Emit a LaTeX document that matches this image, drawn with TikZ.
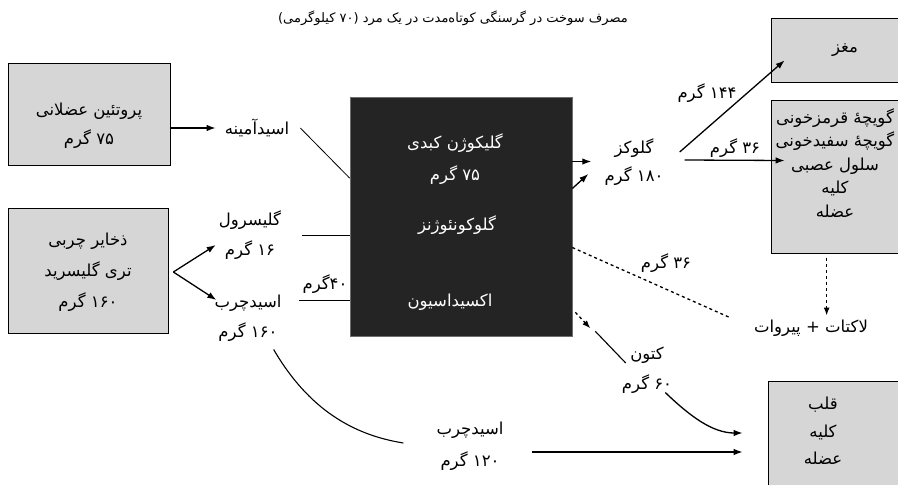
\documentclass[tikz,border=0pt]{standalone}
\usepackage{fontspec}
\newfontfamily\arabicfont[Script=Arabic]{DejaVu Sans}
\TeXXeTstate=1
\usetikzlibrary{arrows.meta,positioning,calc}
\definecolor{PanelFill}{RGB}{214,214,214}
\definecolor{CoreFill}{RGB}{36,36,36}
\definecolor{CoreEdge}{RGB}{110,110,110}
\newcommand{\fa}[1]{{\arabicfont\beginR #1\endR}}
\newcommand{\faN}[1]{\beginL #1\endL{}}
\tikzset{
  arr/.style={-{Latex[length=9pt,width=6.5pt]}, line width=1.3pt},
  feed/.style={line width=0.8pt},
  dotarr/.style={-{Latex[length=8pt,width=6pt]}, line width=1.3pt, dash pattern=on 3pt off 3pt},
  dotline/.style={line width=1.3pt, dash pattern=on 3pt off 3pt},
  panel/.style={draw, fill=PanelFill, line width=0.7pt},
  core/.style={draw=CoreEdge, fill=CoreFill, line width=0.6pt},
  txt/.style={align=center, inner sep=1pt, font=\arabicfont\fontsize{16.5}{29}\selectfont},
  lighttxt/.style={txt, text=white},
}

\begin{document}
\begin{tikzpicture}[x=1pt,y=-1pt]
\useasboundingbox (0,0) rectangle (898,485);

% ---- Title ----
\node[txt, font=\arabicfont\fontsize{13}{16}\selectfont] (title) at (453,18)
  {\fa{مصرف سوخت در گرسنگی کوتاه‌مدت در یک مرد (\faN{۷۰} کیلوگرمی)}};

% ---- Stores ----
\node[panel, minimum width=162pt, minimum height=102pt] (protein) at (89,114) {};
\node[txt] (proteintxt) at (89,126) {\fa{پروتئین عضلانی}\\\fa{\faN{۷۵} گرم}};

\node[panel, minimum width=160pt, minimum height=125pt] (fat) at (88,270.5) {};
\node[txt, font=\arabicfont\fontsize{16.5}{31}\selectfont] (fattxt) at (88,272)
  {\fa{ذخایر چربی}\\\fa{تری گلیسرید}\\\fa{\faN{۱۶۰} گرم}};

% ---- Intermediates ----
\node[txt] (amino) at (257,128) {\fa{اسیدآمینه}};
\node[txt, font=\arabicfont\fontsize{16.5}{30}\selectfont] (glycerol) at (250,235) {\fa{گلیسرول}\\\fa{\faN{۱۶} گرم}};
\node[txt, font=\arabicfont\fontsize{16.5}{30}\selectfont] (acid) at (248,318) {\fa{اسیدچرب}\\\fa{\faN{۱۶۰} گرم}};
\node[txt] (acidshare) at (325,284) {\fa{\faN{۴۰}گرم}};

% ---- Liver ----
\node[core, minimum width=222pt, minimum height=239pt] (liver) at (461,216.5) {};
\node[lighttxt, font=\arabicfont\fontsize{16.5}{32}\selectfont] (glycogen) at (455,159) {\fa{گلیکوژن کبدی}\\\fa{\faN{۷۵} گرم}};
\node[lighttxt] (gng) at (457,225) {\fa{گلوکونئوژنز}};
\node[lighttxt] (oxid) at (450,302) {\fa{اکسیداسیون}};

% ---- Products ----
\node[txt, font=\arabicfont\fontsize{16.5}{28}\selectfont] (glucose) at (634,162) {\fa{گلوکز}\\\fa{\faN{۱۸۰} گرم}};
\node[txt] (brainshare) at (707,93) {\fa{\faN{۱۴۴} گرم}};
\node[txt] (cellshare) at (735,148) {\fa{\faN{۳۶} گرم}};
\node[txt] (lactshare) at (666,263) {\fa{\faN{۳۶} گرم}};
\node[txt] (lactate) at (811,328) {\fa{لاکتات + پیروات}};
\node[txt, font=\arabicfont\fontsize{16.5}{30}\selectfont] (ketone) at (647,370) {\fa{کتون}\\\fa{\faN{۶۰} گرم}};
\node[txt, font=\arabicfont\fontsize{16.5}{32}\selectfont] (acid2) at (470,446) {\fa{اسیدچرب}\\\fa{\faN{۱۲۰} گرم}};

% ---- Consumers ----
\node[panel, minimum width=150pt, minimum height=64pt] (brain) at (846,50) {};
\node[txt] (braintxt) at (845,50) {\fa{مغز}};

\node[panel, minimum width=150pt, minimum height=153pt] (cells) at (846,176.5) {};
\node[txt, font=\arabicfont\fontsize{16.5}{23.5}\selectfont] (cellstxt) at (835,163)
  {\fa{گویچهٔ قرمزخونی}\\\fa{گویچهٔ سفیدخونی}\\\fa{سلول عصبی}\\\fa{کلیه}\\\fa{عضله}};

\node[panel, minimum width=150pt, minimum height=110pt] (heart) at (843,436) {};
\node[txt, font=\arabicfont\fontsize{16.5}{27.5}\selectfont] (hearttxt) at (823,431)
  {\fa{قلب}\\\fa{کلیه}\\\fa{عضله}};

% ---- Arrows ----
\draw[arr, shorten >=8pt] (protein.east |- amino) -- (amino.west);
\draw[feed] ([xshift=10pt]amino.east) -- ($(liver.north west)!0.34!(liver.south west)$);

\coordinate (fork) at ($(fat.east)+(5,1.5)$);
\draw[arr] (fork) -- ($(glycerol.west)+(-2,10)$);
\draw[arr] (fork) -- ($(acid.west)+(3,-18)$);
\draw[feed] ([xshift=20pt]glycerol.east) -- (glycerol.east -| liver.west);
\draw[feed] ($(acidshare.south west)+(-2,6)$) -- ($(acidshare.south west -| liver.west)+(0,6)$);

\draw[arr, shorten >=12pt] ($(liver.east)+(0,-55)$) -- (glucose.west |- 0,161.5);
\draw[arr] ($(liver.east)+(0,-28)$) -- ($(glucose.west)+(-15,12)$);
\draw[arr] ($(glucose.east)+(15,-10)$) -- ($(brain.south west)+(14,-22)$);
\draw[arr] ($(glucose.east)+(20,-2)$) -- ($(cells.west)+(14,-16)$);

\draw[dotline] ($(liver.east)+(0,31)$) -- ($(lactate.west)+(-22,-10)$);
\coordinate (drop) at ($(cells.south west)+(56,5)$);
\draw[dotarr, shorten >=3pt] (drop) -- (drop |- lactate.north);

\coordinate (ketonetip) at ($(liver.south east)+(18,-8)$);
\draw[dotarr] ($(liver.south east)+(3,-24)$) -- (ketonetip);
\draw[feed, line width=1.1pt] ($(ketonetip)+(5,3)$) -- ($(ketone.west)+(5,-7)$);
\draw[arr] ($(ketone.south east)+(-8,-2)$) .. controls +(25,24) and +(-30,0) .. ($(heart.west)+(-25,-3)$);

\draw[feed, line width=1.1pt] ($(acid.south east)+(-9,7)$) .. controls +(35,60) and +(-50,-8) .. ($(acid2.west)+(-32,-3)$);
\draw[arr] ($(acid2.east)+(27,6)$) -- ($(heart.west)+(-25,16)$);

\end{tikzpicture}
\end{document}
